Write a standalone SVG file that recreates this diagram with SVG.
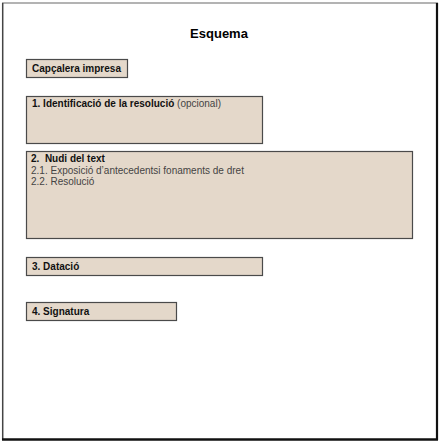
<svg xmlns="http://www.w3.org/2000/svg" width="442" height="445" viewBox="0 0 442 445">
<style>
.box{fill:#e4d8ca;stroke:#4a4a4a;stroke-width:1.2}
.b{font-family:"Liberation Sans",Arial,sans-serif;font-size:10px;font-weight:bold;fill:#111}
.r{font-family:"Liberation Sans",Arial,sans-serif;font-size:10px;fill:#444}
</style>
<rect x="0" y="0" width="442" height="445" fill="#fff"/>
<g id="page">
<rect x="2.5" y="3" width="435" height="436" fill="#fff" stroke="none"/>
<line x1="2" y1="3" x2="438" y2="3" stroke="#9a9a9a" stroke-width="1.5"/>
<line x1="2.7" y1="3" x2="2.7" y2="440" stroke="#444" stroke-width="1.5"/>
<line x1="437" y1="3" x2="437" y2="440" stroke="#111" stroke-width="2.2"/>
<line x1="2" y1="439.5" x2="438" y2="439.5" stroke="#111" stroke-width="2.5"/>
</g>
<text x="219" y="38" text-anchor="middle" font-family="Liberation Sans,Arial,sans-serif" font-size="13" font-weight="bold" fill="#000">Esquema</text>
<g id="capcalera">
<rect class="box" x="26.5" y="59.5" width="101" height="18"/>
<text class="b" x="32" y="72">Capçalera impresa</text>
</g>
<g id="identificacio">
<rect class="box" x="26.5" y="96.5" width="236" height="47"/>
<text class="b" x="32" y="107">1. Identificació de la resolució <tspan class="r" font-weight="normal">(opcional)</tspan></text>
</g>
<g id="nucli">
<rect class="box" x="26.5" y="151.5" width="386" height="87"/>
<text class="b" x="31" y="162">2.&#160; Nudi del text</text>
<text class="r" x="31" y="174">2.1. Exposició d’antecedentsi fonaments de dret</text>
<text class="r" x="31" y="185">2.2. Resolució</text>
</g>
<g id="datacio">
<rect class="box" x="26.5" y="257.5" width="236" height="18"/>
<text class="b" x="32" y="270">3. Datació</text>
</g>
<g id="signatura">
<rect class="box" x="26.5" y="302.5" width="150" height="18"/>
<text class="b" x="32" y="315">4. Signatura</text>
</g>
<g id="connectors"></g>
</svg>
